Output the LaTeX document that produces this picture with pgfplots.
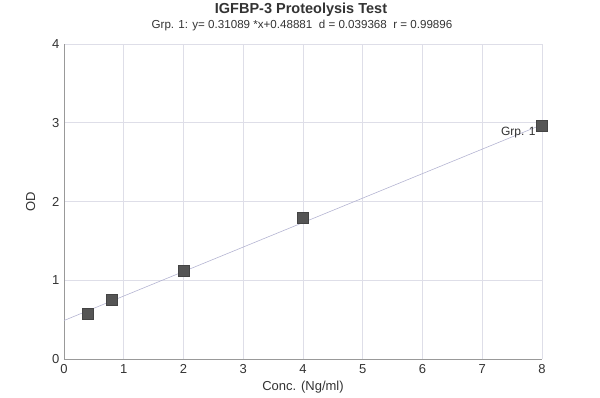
\documentclass[border=0pt]{standalone}
\usepackage{pgfplots}
\pgfplotsset{compat=1.18}
\usepackage{fontspec}
\setmainfont{Liberation Sans}
\definecolor{gridc}{HTML}{DEDEE8}
\definecolor{linec}{HTML}{B4B4D2}
\definecolor{markc}{HTML}{555555}
\definecolor{txtc}{HTML}{333333}
\begin{document}
\begin{tikzpicture}[x=1pt,y=1pt]
\path[use as bounding box] (0,0) rectangle (600,397);
\node[font=\bfseries\fontsize{14.5}{17}\selectfont, text=txtc] at (301,387) {IGFBP-3 Proteolysis Test};
\node[font=\fontsize{11.6}{13}\selectfont, text=txtc] at (302,371) {Grp. 1: y= 0.31089 *x+0.48881\ \ d = 0.039368\ \ r = 0.99896};
\begin{axis}[
  at={(64pt,38pt)}, anchor=south west,
  scale only axis, width=478pt, height=315pt,
  xmin=0, xmax=8, ymin=0, ymax=4,
  xtick={0,1,...,8}, ytick={0,1,2,3,4},
  tick style={draw=none},
  grid=major, major grid style={gridc, line width=0.6pt},
  axis lines*=left,
  axis line style={gray!80, line width=0.8pt},
  every tick label/.append style={font=\fontsize{13}{15}\selectfont, text=txtc},
  xticklabel style={yshift=-2pt},
  yticklabel style={xshift=-1pt},
  /pgf/number format/assume math mode=true,
  xlabel={Conc. (Ng/ml)}, ylabel={OD},
  label style={font=\fontsize{13}{15}\selectfont, text=txtc},
  xlabel style={yshift=0pt},
  ylabel style={yshift=10pt},
  clip=false,
]
\addplot[linec, line width=0.6pt] coordinates {(0,0.48881) (8,2.97593)};
\addplot[only marks, mark=square*, mark size=5.5pt, mark options={fill=markc, draw=markc!80!black}]
  coordinates {(0.4,0.57) (0.8,0.75) (2,1.12) (4,1.80) (8,2.96)};
\node[anchor=east, font=\fontsize{12}{14}\selectfont, text=txtc] at (axis cs:7.95,2.88) {Grp. 1};
\end{axis}
\end{tikzpicture}
\end{document}
